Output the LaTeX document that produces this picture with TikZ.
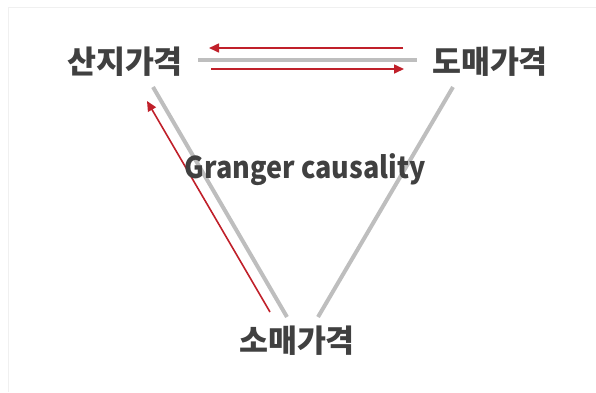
\documentclass[tikz,border=0pt]{standalone}
\usepackage{fontspec}
\newfontfamily\kor{Noto Sans CJK KR}
\newfontfamily\korlat{Noto Sans CJK KR}[FakeStretch=0.9]
\usetikzlibrary{arrows.meta}
\definecolor{texte}{HTML}{404040}
\definecolor{trait}{HTML}{BEBEBE}
\definecolor{fleche}{HTML}{C0202A}
\definecolor{cadre}{HTML}{F0F0F0}
\begin{document}
\begin{tikzpicture}[x=1pt, y=-1pt,
		prix/.style={font=\kor\bfseries\fontsize{31.5}{36}\selectfont, text=texte, inner sep=0pt},
		titre/.style={font=\korlat\bfseries\fontsize{30}{36}\selectfont, text=texte, inner sep=0pt, anchor=base},
		lien/.style={draw=trait, line width=4pt},
		causal/.style={draw=fleche, line width=1.6pt, -{Triangle[length=10pt,width=9pt]}}]
		\useasboundingbox (0,0) rectangle (596,392);
		\draw[cadre, line width=1pt] (596,7) -- (8,7) -- (8,392);
		%Noeuds du diagramme, un noeud par prix
		\node[prix] (SAN) at (125,61.5) {산지가격};
		\node[prix] (DO) at (490,62) {도매가격};
		\node[prix] (SO) at (297,341) {소매가격};
		%Liens du triangle
		\draw[lien] ([shift={(73,-1.5)}]SAN.center) -- ([shift={(-73,-2)}]DO.center);
		\draw[lien] ([shift={(28,25.5)}]SAN.center) -- ([shift={(-10,-24)}]SO.center);
		\draw[lien] ([shift={(-37,25)}]DO.center) -- ([shift={(21,-24)}]SO.center);
		%Sens de la causalite
		\draw[causal] ([shift={(-87,-14)}]DO.center) -- ([shift={(84,-13.5)}]SAN.center);
		\draw[causal] ([shift={(86,7.5)}]SAN.center) -- ([shift={(-86,7)}]DO.center);
		\draw[causal] ([shift={(-27,-29)}]SO.center) -- ([shift={(22,39.5)}]SAN.center);
		%Titre au milieu
		\node[titre] (GC) at (305,178) {Granger causality};
	\end{tikzpicture}
\end{document}
